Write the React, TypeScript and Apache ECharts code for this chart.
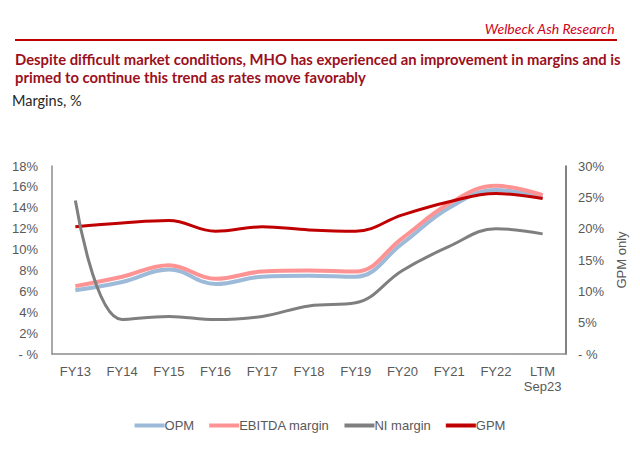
import React, { useEffect, useRef } from "react";
import * as echarts from "echarts";

const categories = ["FY13", "FY14", "FY15", "FY16", "FY17", "FY18", "FY19", "FY20", "FY21", "FY22", "LTM\nSep23"];
const opm = [6.1, 6.9, 8.1, 6.7, 7.4, 7.5, 7.4, 10.6, 14.0, 15.7, 15.0];
const ebitda = [6.5, 7.4, 8.5, 7.2, 7.9, 8.0, 7.9, 11.1, 14.4, 16.1, 15.2];
const ni = [14.7, 3.3, 3.6, 3.3, 3.6, 4.6, 4.9, 8.0, 10.3, 12.0, 11.5];
const gpm = [20.3, 20.9, 21.3, 19.6, 20.3, 19.8, 19.6, 22.2, 24.3, 25.6, 24.8];

const leftTicks = { min: 0, max: 18, interval: 2 };
const rightTicks = { min: 0, max: 30, interval: 5 };

const title1 = "Despite difficult market conditions, MHO has experienced an improvement in margins and is";
const title2 = "primed to continue this trend as rates move favorably";

export default function App() {
  const ref = useRef<HTMLDivElement>(null);
  useEffect(() => {
    const chart = echarts.init(ref.current!, undefined, { renderer: "svg" });
    const axisFont = { color: "#595959", fontSize: 13, fontFamily: "Liberation Sans" };
    const pct = (v: number) => (v === 0 ? "- %" : v + "%");
    chart.setOption({
      animation: false,
      backgroundColor: "#ffffff",
      grid: { left: 52, right: 74, top: 166, bottom: 95, containLabel: false },
      graphic: [
        {
          type: "text",
          right: 25,
          top: 21,
          style: { text: "Welbeck Ash Research", fill: "#d0021b", font: "italic 14px Lato" },
        },
        {
          type: "line",
          shape: { x1: 15, y1: 40, x2: 617, y2: 40 },
          style: { stroke: "#c00000", lineWidth: 2 },
        },
        {
          type: "text",
          left: 15,
          top: 50,
          style: {
            text: title1 + "\n" + title2,
            fill: "#9b1020",
            font: "bold 14.8px Lato",
            lineHeight: 18,
          },
        },
        {
          type: "text",
          left: 12,
          top: 93,
          style: { text: "Margins, %", fill: "#262626", font: "14.5px Lato" },
        },
      ],
      legend: {
        bottom: 12,
        left: "center",
        itemWidth: 30,
        itemHeight: 4,
        itemGap: 15,
        icon: "rect",
        textStyle: { color: "#595959", fontSize: 13, fontFamily: "Liberation Sans", padding: [0, 0, 0, -5] },
        data: ["OPM", "EBITDA margin", "NI margin", "GPM"],
      },
      xAxis: {
        type: "category",
        data: categories,
        boundaryGap: true,
        axisLine: { lineStyle: { color: "#8c8c8c", width: 1.5 } },
        axisTick: { show: false },
        axisLabel: { ...axisFont, margin: 10, interval: 0, lineHeight: 15 },
      },
      yAxis: [
        {
          type: "value",
          ...leftTicks,
          position: "left",
          axisLine: { show: true, lineStyle: { color: "#8c8c8c", width: 1.5 } },
          axisTick: { show: false },
          splitLine: { show: false },
          axisLabel: { ...axisFont, margin: 14, formatter: pct },
        },
        {
          type: "value",
          ...rightTicks,
          position: "right",
          name: "GPM only",
          nameLocation: "middle",
          nameRotate: 90,
          nameGap: 45,
          nameTextStyle: { ...axisFont },
          axisLine: { show: true, lineStyle: { color: "#595959", width: 1.5 } },
          axisTick: { show: false },
          splitLine: { show: false },
          axisLabel: { ...axisFont, margin: 12, formatter: pct },
        },
      ],
      series: [
        {
          name: "OPM",
          type: "line",
          data: opm,
          smooth: 0.4,
          showSymbol: false,
          lineStyle: { color: "#9dbbd9", width: 4 },
          itemStyle: { color: "#9dbbd9" },
          z: 2,
        },
        {
          name: "EBITDA margin",
          type: "line",
          data: ebitda,
          smooth: 0.4,
          showSymbol: false,
          lineStyle: { color: "#ff9393", width: 4 },
          itemStyle: { color: "#ff9393" },
          z: 3,
        },
        {
          name: "NI margin",
          type: "line",
          data: ni,
          smooth: 0.4,
          showSymbol: false,
          lineStyle: { color: "#7f7f7f", width: 3 },
          itemStyle: { color: "#7f7f7f" },
          z: 5,
        },
        {
          name: "GPM",
          type: "line",
          yAxisIndex: 1,
          data: gpm,
          smooth: 0.4,
          showSymbol: false,
          lineStyle: { color: "#c00000", width: 3 },
          itemStyle: { color: "#c00000" },
          z: 4,
        },
      ],
    });
    return () => chart.dispose();
  }, []);
  return <div ref={ref} style={{ width: 640, height: 449, position: "absolute", left: 0, top: 0 }} />;
}
